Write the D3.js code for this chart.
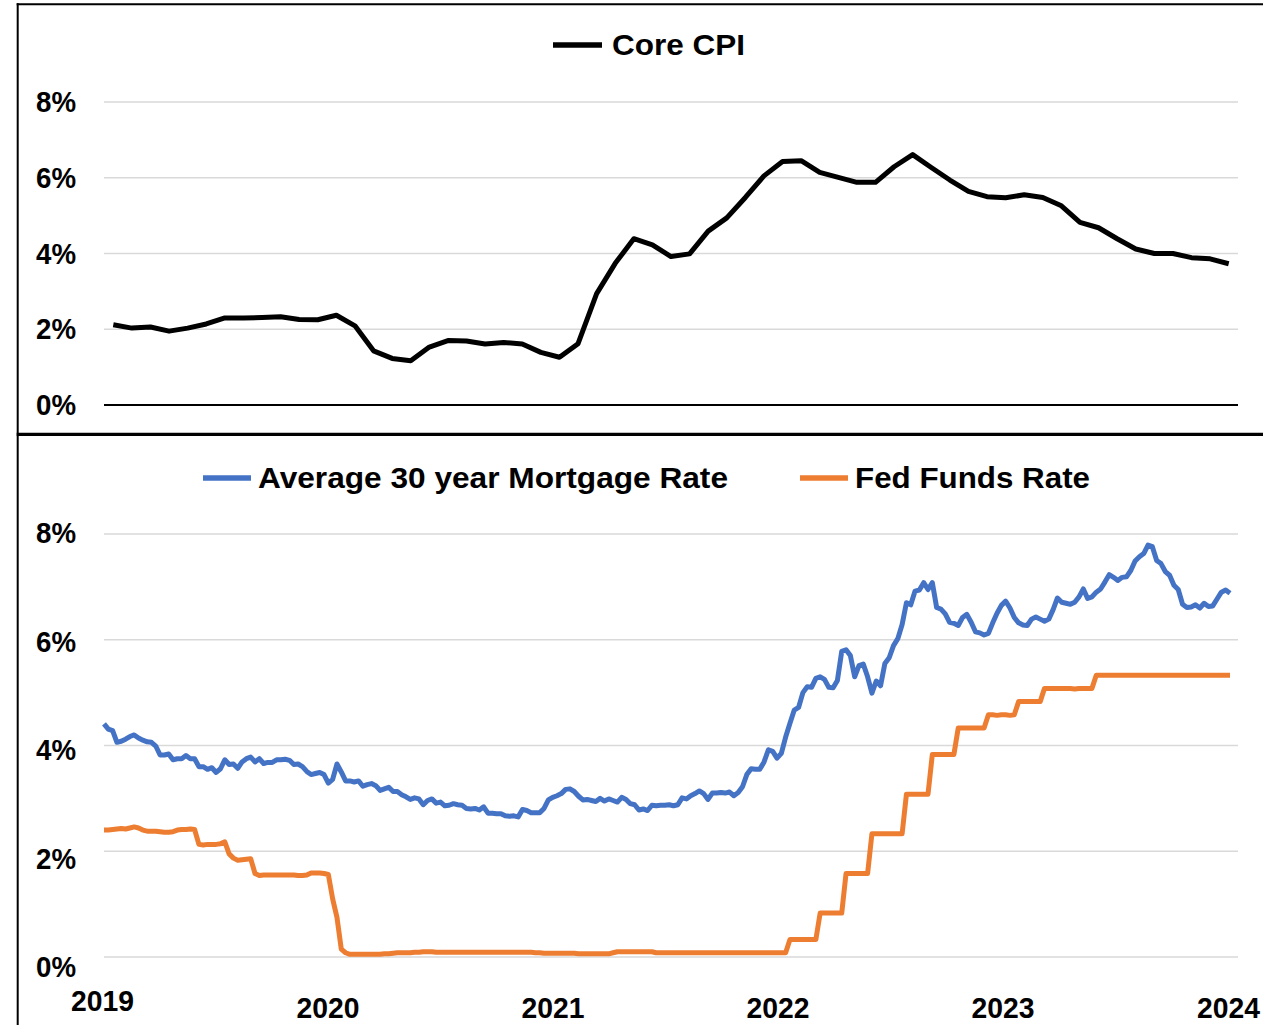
<!DOCTYPE html>
<html>
<head>
<meta charset="utf-8">
<title>core cpi vs rates</title>
<script src="https://cdn.jsdelivr.net/npm/d3@7"></script>
<style>
  body { margin: 0; background: #fff; }
  svg { display: block; }
</style>
</head>
<body>
<svg id="chart" width="1263" height="1025"></svg>
<script>

// core CPI, y/y %, monthly from Feb 2019
var cpiStart = new Date(2019, 1, 1);
var cpiValues = [
  2.12, 2.03, 2.06, 1.95, 2.03, 2.14, 2.30, 2.30, 2.31, 2.33,
  2.26, 2.25, 2.37, 2.09, 1.43, 1.23, 1.17, 1.53, 1.70, 1.69,
  1.61, 1.65, 1.61, 1.39, 1.26, 1.62, 2.94, 3.74, 4.39, 4.23,
  3.92, 3.99, 4.59, 4.94, 5.48, 6.05, 6.43, 6.45, 6.14, 6.01,
  5.88, 5.88, 6.29, 6.61, 6.27, 5.94, 5.64, 5.50, 5.47, 5.55,
  5.48, 5.26, 4.82, 4.68, 4.39, 4.12, 4.00, 4.00, 3.89, 3.86,
  3.73
];

// weekly, first week 7 Mar 2019
var weekStart = new Date(2019, 2, 7);
var mortgageRates = [
  // 2019
  4.41, 4.31, 4.28, 4.06, 4.08, 4.12, 4.17, 4.20, 4.14, 4.10,
  4.07, 4.06, 3.99, 3.82, 3.82, 3.84, 3.73, 3.75, 3.75, 3.81,
  3.75, 3.75, 3.60, 3.60, 3.55, 3.58, 3.49, 3.56, 3.73, 3.64,
  3.65, 3.57, 3.69, 3.75, 3.78, 3.69, 3.75, 3.66, 3.68, 3.68,
  3.73, 3.73, 3.74,
  // 2020
  3.72, 3.64, 3.65, 3.60, 3.51, 3.45, 3.47, 3.49, 3.45, 3.29,
  3.36, 3.65, 3.50, 3.33, 3.33, 3.31, 3.33, 3.23, 3.26, 3.28,
  3.24, 3.15, 3.18, 3.21, 3.13, 3.13, 3.07, 3.03, 2.98, 3.01,
  2.99, 2.88, 2.96, 2.99, 2.91, 2.93, 2.86, 2.87, 2.90, 2.88,
  2.87, 2.81, 2.80, 2.81, 2.78, 2.84, 2.72, 2.72, 2.71, 2.71,
  2.67, 2.66, 2.67,
  // 2021
  2.65, 2.79, 2.77, 2.73, 2.73, 2.73, 2.81, 2.97, 3.02, 3.05,
  3.09, 3.17, 3.18, 3.13, 3.04, 2.97, 2.98, 2.96, 2.94, 3.00,
  2.95, 2.99, 2.96, 2.93, 3.02, 2.98, 2.90, 2.88, 2.78, 2.80,
  2.77, 2.87, 2.86, 2.87, 2.87, 2.88, 2.86, 2.88, 3.01, 2.99,
  3.05, 3.09, 3.14, 3.09, 2.98, 3.10, 3.10, 3.11, 3.10, 3.12,
  3.05, 3.11,
  // 2022
  3.22, 3.45, 3.56, 3.55, 3.55, 3.69, 3.92, 3.89, 3.76, 3.85,
  4.16, 4.42, 4.67, 4.72, 5.00, 5.11, 5.10, 5.27, 5.30, 5.25,
  5.10, 5.09, 5.23, 5.78, 5.81, 5.70, 5.30, 5.51, 5.54, 5.30,
  4.99, 5.22, 5.13, 5.55, 5.66, 5.89, 6.02, 6.29, 6.70, 6.66,
  6.92, 6.94, 7.08, 6.95, 7.08, 6.61, 6.58, 6.49, 6.33, 6.31,
  6.27, 6.42,
  // 2023
  6.48, 6.33, 6.15, 6.13, 6.09, 6.12, 6.32, 6.50, 6.65, 6.73,
  6.60, 6.42, 6.32, 6.28, 6.27, 6.39, 6.43, 6.39, 6.35, 6.39,
  6.57, 6.79, 6.71, 6.69, 6.67, 6.71, 6.81, 6.96, 6.78, 6.81,
  6.90, 6.96, 7.09, 7.23, 7.18, 7.12, 7.18, 7.19, 7.31, 7.49,
  7.57, 7.63, 7.79, 7.76, 7.50, 7.44, 7.29, 7.22, 7.03, 6.95,
  6.67, 6.61,
  // 2024
  6.62, 6.66, 6.60, 6.69, 6.63, 6.64, 6.77, 6.90, 6.94, 6.88
];

var fedFundsRates = [
  // 2019
  2.40, 2.40, 2.41, 2.42, 2.43, 2.42, 2.44, 2.46, 2.44, 2.40,
  2.38, 2.38, 2.38, 2.37, 2.36, 2.36, 2.37, 2.40, 2.41, 2.41,
  2.42, 2.41, 2.13, 2.12, 2.13, 2.13, 2.13, 2.14, 2.18, 1.95,
  1.87, 1.83, 1.84, 1.85, 1.86, 1.58, 1.54, 1.55, 1.55, 1.55,
  1.55, 1.55, 1.55,
  // 2020
  1.55, 1.55, 1.54, 1.54, 1.55, 1.59, 1.59, 1.59, 1.58, 1.56,
  1.10, 0.75, 0.15, 0.08, 0.05, 0.05, 0.05, 0.05, 0.05, 0.05,
  0.05, 0.05, 0.06, 0.06, 0.07, 0.08, 0.08, 0.08, 0.08, 0.09,
  0.09, 0.10, 0.10, 0.10, 0.09, 0.09, 0.09, 0.09, 0.09, 0.09,
  0.09, 0.09, 0.09, 0.09, 0.09, 0.09, 0.09, 0.09, 0.09, 0.09,
  0.09, 0.09, 0.09,
  // 2021
  0.09, 0.09, 0.09, 0.09, 0.08, 0.08, 0.07, 0.07, 0.07, 0.07,
  0.07, 0.07, 0.07, 0.07, 0.06, 0.06, 0.06, 0.06, 0.06, 0.06,
  0.06, 0.06, 0.08, 0.10, 0.10, 0.10, 0.10, 0.10, 0.10, 0.10,
  0.10, 0.10, 0.08, 0.08, 0.08, 0.08, 0.08, 0.08, 0.08, 0.08,
  0.08, 0.08, 0.08, 0.08, 0.08, 0.08, 0.08, 0.08, 0.08, 0.08,
  0.08, 0.08,
  // 2022
  0.08, 0.08, 0.08, 0.08, 0.08, 0.08, 0.08, 0.08, 0.08, 0.08,
  0.08, 0.33, 0.33, 0.33, 0.33, 0.33, 0.33, 0.33, 0.83, 0.83,
  0.83, 0.83, 0.83, 0.83, 1.58, 1.58, 1.58, 1.58, 1.58, 1.58,
  2.33, 2.33, 2.33, 2.33, 2.33, 2.33, 2.33, 2.33, 3.08, 3.08,
  3.08, 3.08, 3.08, 3.08, 3.83, 3.83, 3.83, 3.83, 3.83, 3.83,
  4.33, 4.33,
  // 2023
  4.33, 4.33, 4.33, 4.33, 4.33, 4.58, 4.58, 4.57, 4.58, 4.58,
  4.57, 4.58, 4.83, 4.83, 4.83, 4.83, 4.83, 4.83, 5.08, 5.08,
  5.08, 5.08, 5.08, 5.08, 5.08, 5.07, 5.08, 5.08, 5.08, 5.08,
  5.33, 5.33, 5.33, 5.33, 5.33, 5.33, 5.33, 5.33, 5.33, 5.33,
  5.33, 5.33, 5.33, 5.33, 5.33, 5.33, 5.33, 5.33, 5.33, 5.33,
  5.33, 5.33,
  // 2024
  5.33, 5.33, 5.33, 5.33, 5.33, 5.33, 5.33, 5.33, 5.33, 5.33
];

var yTicks = [0, 2, 4, 6, 8];
var yearLabels = ["2019", "2020", "2021", "2022", "2023", "2024"];

if (cpiValues.length != 61 || mortgageRates.length != 262 || fedFundsRates.length != 262)
    throw new Error("bad lengths " + cpiValues.length + " " + mortgageRates.length + " " + fedFundsRates.length);

var W = 1263, H = 1025;
var left = 104, right = 1238;
var FONT = '"Liberation Sans", Arial, sans-serif';
var GRID = '#d9d9d9';
var BLUE = '#4472c4', ORANGE = '#ed7d31';
var LW = 5;

var svg = d3.select('#chart');
svg.append('rect').attr('width', W).attr('height', H).attr('fill', '#fff');

function boldText(sel, size) {
    sel.attr('font-family', FONT).attr('font-weight', 'bold')
       .attr('font-size', size).attr('fill', '#000');
}

// ---- top panel: core CPI
var yTop = d3.scaleLinear().domain([0, 8]).range([405, 102]);
var xTop = d3.scalePoint()
    .domain(d3.range(cpiValues.length))
    .range([left, right])
    .padding(0.5);

svg.append('g').selectAll('line')
    .data(yTicks)
    .join('line')
      .attr('x1', left).attr('x2', right)
      .attr('y1', d => yTop(d)).attr('y2', d => yTop(d))
      .attr('stroke', d => d == 0 ? '#000' : GRID)
      .attr('stroke-width', d => d == 0 ? 2 : 1.5);

svg.append('g')
    .attr('transform', 'translate(80,0)')
    .call(d3.axisLeft(yTop).tickValues(yTicks).tickSize(0).tickPadding(4)
            .tickFormat(d => d + '%'))
    .call(g => g.select('.domain').remove())
    .selectAll('text')
      .call(boldText, 30)
      .attr('textLength', 40).attr('lengthAdjust', 'spacingAndGlyphs');

var cpiLine = d3.line()
    .x((d, i) => xTop(i))
    .y(d => yTop(d));

svg.append('path')
    .datum(cpiValues)
    .attr('d', cpiLine)
    .attr('fill', 'none')
    .attr('stroke', '#000')
    .attr('stroke-width', LW)
    .attr('stroke-linejoin', 'round');

svg.append('line')
    .attr('x1', 553).attr('x2', 602).attr('y1', 45).attr('y2', 45)
    .attr('stroke', '#000').attr('stroke-width', 5.5);
svg.append('text')
    .attr('x', 612).attr('y', 55)
    .text('Core CPI')
    .call(boldText, 30)
    .attr('textLength', 133).attr('lengthAdjust', 'spacingAndGlyphs');

// ---- bottom panel: mortgage vs fed funds
var yBot = d3.scaleLinear().domain([0, 8]).range([957, 534]);
// the source's % labels drift a little below the gridlines further down
var yBotLabel = d3.scaleLinear().domain([0, 8]).range([967, 533]);

var weekDates = mortgageRates.map((d, i) => d3.timeWeek.offset(weekStart, i));
var xBot = d3.scaleTime()
    .domain([weekStart, weekDates[weekDates.length - 1]])
    .range([left, 1230]);

svg.append('g').selectAll('line')
    .data(yTicks)
    .join('line')
      .attr('x1', left).attr('x2', right)
      .attr('y1', d => yBot(d)).attr('y2', d => yBot(d))
      .attr('stroke', GRID)
      .attr('stroke-width', 1.5);

svg.append('g')
    .attr('transform', 'translate(80,0)')
    .call(d3.axisLeft(yBotLabel).tickValues(yTicks).tickSize(0).tickPadding(4)
            .tickFormat(d => d + '%'))
    .call(g => g.select('.domain').remove())
    .selectAll('text')
      .call(boldText, 30)
      .attr('textLength', 40).attr('lengthAdjust', 'spacingAndGlyphs');

// year labels sit at the anniversaries of the first week
var yearTicks = yearLabels.map((y, k) => d3.timeYear.offset(weekStart, k));
var xAxis = svg.append('g')
    .attr('transform', 'translate(-2,994)')
    .call(d3.axisBottom(xBot).tickValues(yearTicks).tickSize(0).tickPadding(3)
            .tickFormat((d, k) => yearLabels[k]))
    .call(g => g.select('.domain').remove());
xAxis.selectAll('text')
    .call(boldText, 30)
    .attr('textLength', 63).attr('lengthAdjust', 'spacingAndGlyphs')
    .attr('y', (d, k) => k == 0 ? -4 : 3);

var rateLine = d3.line()
    .x((d, i) => xBot(weekDates[i]))
    .y(d => yBot(d));

svg.append('path')
    .datum(mortgageRates)
    .attr('d', rateLine)
    .attr('fill', 'none')
    .attr('stroke', BLUE)
    .attr('stroke-width', LW)
    .attr('stroke-linejoin', 'round');

svg.append('path')
    .datum(fedFundsRates)
    .attr('d', rateLine)
    .attr('fill', 'none')
    .attr('stroke', ORANGE)
    .attr('stroke-width', LW)
    .attr('stroke-linejoin', 'round');

var legend = [
    {name: 'Average 30 year Mortgage Rate', color: BLUE, x: 203, len: 470},
    {name: 'Fed Funds Rate', color: ORANGE, x: 800, len: 235}
];
legend.forEach(function (s) {
    svg.append('line')
        .attr('x1', s.x).attr('x2', s.x + 48).attr('y1', 478).attr('y2', 478)
        .attr('stroke', s.color).attr('stroke-width', 5.5);
    svg.append('text')
        .attr('x', s.x + 55).attr('y', 488)
        .text(s.name)
        .call(boldText, 30)
        .attr('textLength', s.len).attr('lengthAdjust', 'spacingAndGlyphs');
});

// ---- frame
svg.append('line')
    .attr('x1', 17.7).attr('x2', 17.7).attr('y1', 3.2).attr('y2', H)
    .attr('stroke', '#000').attr('stroke-width', 2);
svg.append('line')
    .attr('x1', 16.7).attr('x2', W).attr('y1', 4.2).attr('y2', 4.2)
    .attr('stroke', '#000').attr('stroke-width', 2);
svg.append('line')
    .attr('x1', 16.7).attr('x2', W).attr('y1', 434.3).attr('y2', 434.3)
    .attr('stroke', '#000').attr('stroke-width', 3.2);

</script>
</body>
</html>
